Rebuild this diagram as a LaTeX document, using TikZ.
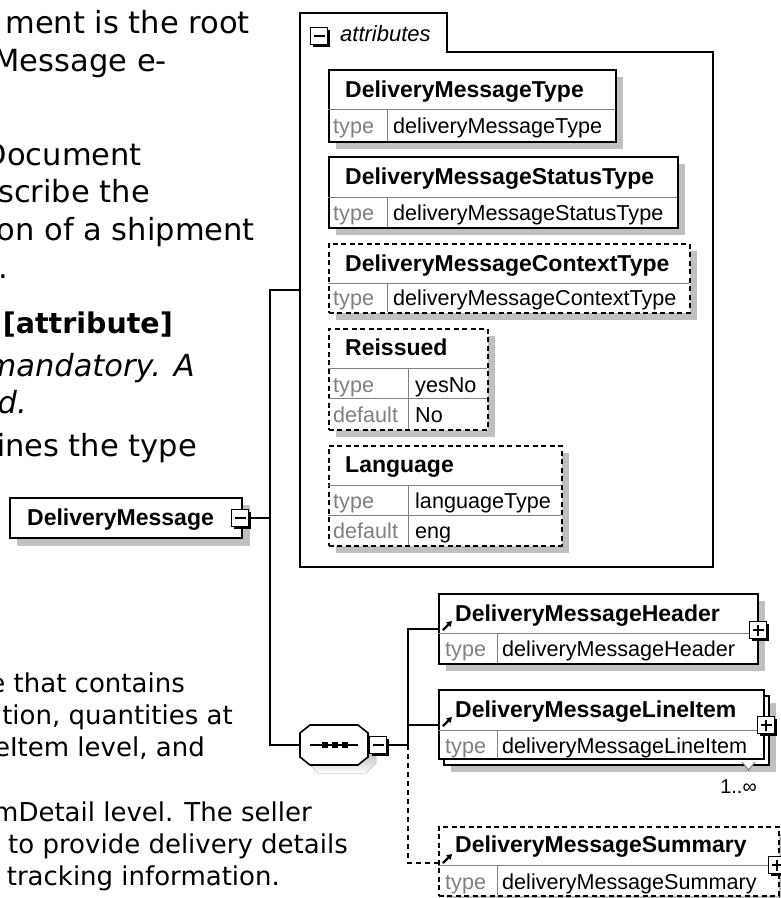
\documentclass[tikz,border=0pt]{standalone}
\usepackage{fontspec}
\setmainfont{DejaVu Sans}
\newfontfamily\dfont{Liberation Sans}
\usetikzlibrary{shadows,arrows.meta}
\definecolor{shade}{RGB}{192,192,192}
\definecolor{divc}{RGB}{128,128,128}
\definecolor{lblc}{RGB}{128,128,128}
\begin{document}
\begin{tikzpicture}[x=1pt,y=-1pt,
  ptext/.style={inner sep=0pt, anchor=base east, font=\fontsize{30.5}{36}\selectfont},
  btext/.style={inner sep=0pt, anchor=base east, font=\fontsize{26}{32}\selectfont},
  elbase/.style={draw=black, line width=1.6pt, fill=white, inner sep=0pt, anchor=north west},
  elbox/.style={elbase, drop shadow={shadow xshift=7pt, shadow yshift=-7pt, fill=shade, opacity=1}},
  optbox/.style={elbox, dash pattern=on 5pt off 3.5pt},
  expbox/.style={draw=black, line width=1.5pt, fill=white, minimum size=17pt, inner sep=0pt,
     drop shadow={shadow xshift=2.2pt, shadow yshift=-2.2pt, fill=black, opacity=1}},
  nm/.style={inner sep=0pt, anchor=base west, font=\dfont\bfseries\fontsize{23}{26}\selectfont},
  vl/.style={inner sep=0pt, anchor=base west, font=\dfont\fontsize{21.6}{25}\selectfont},
  lb/.style={vl, text=lblc},
  dv/.style={draw=divc, line width=1pt},
  cn/.style={draw=black, line width=1.6pt},
  cnd/.style={cn, dash pattern=on 5pt off 4pt},
  sgn/.style={draw=black, line width=1.4pt},
  refarrow/.style={line width=2.2pt, -{Triangle[length=5pt,width=6pt]}}
]
\useasboundingbox (0,0) rectangle (781,898);
\clip (0,0) rectangle (781,898);

% ---------- background text ----------
\node[ptext] (t1) at (250,33) {ment is the root};
\node[ptext] (t2) at (167,71) {Message e-};
\node[ptext] (t3) at (142,165) {Document};
\node[ptext] (t4) at (150,202) {scribe the};
\node[ptext] (t5) at (255,240) {on of a shipment};
\node[ptext] (t6) at (8,278) {.};
\node[ptext, font=\bfseries\fontsize{28.5}{36}\selectfont] (t7) at (173,333) {[attribute]};
\node[ptext, font=\itshape\fontsize{30.5}{36}\selectfont] (t8) at (195,376) {mandatory. A};
\node[ptext, font=\itshape\fontsize{30.5}{36}\selectfont] (t9) at (27,413) {d.};
\node[ptext] (t10) at (197,456) {fines the type};
\node[btext] (b1) at (185,692) {e that contains};
\node[btext] (b2) at (233,724) {tion, quantities at};
\node[btext] (b3) at (205,756) {eItem level, and};
\node[btext] (b4) at (312,821) {mDetail level. The seller};
\node[btext] (b5) at (348,853) {to provide delivery details};
\node[btext] (b6) at (280,885) {tracking information.};

% ---------- attributes panel ----------
\draw[cn, fill=white] (300,567) -- (300,13) -- (447,13) -- (447,52) -- (713,52) -- (713,567) -- cycle;
\node[expbox] (ax) at (319,36) {};
\draw[sgn] (ax.center) ++(-5.5,0) -- ++(11,0);
\node[inner sep=0pt, anchor=base west, font=\dfont\itshape\fontsize{22}{26}\selectfont] (atl) at (340,41) {attributes};
\coordinate (pa) at (300,290);

% DeliveryMessageType
\node[elbox, minimum width=287pt, minimum height=72pt] (a1) at (328,69) {};
\draw[dv] (328,109) -- (615,109); \draw[dv] (387,109) -- (387,141);
\node[nm] (a1n) at (345,97) {DeliveryMessageType};
\node[lb] (a1l) at (333,133) {type};
\node[vl] (a1v) at (393,133) {deliveryMessageType};

% DeliveryMessageStatusType
\node[elbox, minimum width=349pt, minimum height=71pt] (a2) at (328,156) {};
\draw[dv] (328,197) -- (677,197); \draw[dv] (387,197) -- (387,227);
\node[nm] (a2n) at (345,184) {DeliveryMessageStatusType};
\node[lb] (a2l) at (333,220) {type};
\node[vl] (a2v) at (393,220) {deliveryMessageStatusType};

% DeliveryMessageContextType
\node[optbox, minimum width=361pt, minimum height=69pt] (a3) at (328,243) {};
\draw[dv] (328,283) -- (689,283); \draw[dv] (387,283) -- (387,312);
\node[nm] (a3n) at (345,271) {DeliveryMessageContextType};
\node[lb] (a3l) at (333,305) {type};
\node[vl] (a3v) at (393,305) {deliveryMessageContextType};

% Reissued
\node[optbox, minimum width=159pt, minimum height=101pt] (a4) at (328,328) {};
\draw[dv] (328,368) -- (487,368); \draw[dv] (328,398) -- (487,398); \draw[dv] (408,368) -- (408,429);
\node[nm] (a4n) at (345,355) {Reissued};
\node[lb] (a4l) at (333,392) {type};
\node[vl] (a4v) at (415,392) {yesNo};
\node[lb] (a4d) at (333,422) {default};
\node[vl] (a4w) at (415,422) {No};

% Language
\node[optbox, minimum width=233pt, minimum height=100pt] (a5) at (328,445) {};
\draw[dv] (328,485) -- (561,485); \draw[dv] (328,515) -- (561,515); \draw[dv] (408,485) -- (408,545);
\node[nm] (a5n) at (345,472) {Language};
\node[lb] (a5l) at (333,508) {type};
\node[vl] (a5v) at (415,508) {languageType};
\node[lb] (a5d) at (333,538) {default};
\node[vl] (a5w) at (415,538) {eng};

% ---------- root element ----------
\node[elbox, drop shadow={shadow xshift=8pt, shadow yshift=-8pt, fill=shade, opacity=1}, minimum width=232pt, minimum height=40pt] (root) at (9,497) {};
\node[nm] (rootn) at (27,525) {DeliveryMessage};
\node[expbox] (rx) at (240,518) {};
\draw[sgn] (rx.center) ++(-5.5,0) -- ++(11,0);
\coordinate (j1) at (270,518);

% ---------- sequence compositor ----------
\fill[shade] (308,741) -- (318,733) -- (366,733) -- (376,741) -- (376,763) -- (366,773) -- (318,773) -- (308,763) -- cycle;
\node[inner sep=0pt, minimum width=68pt, minimum height=40pt, anchor=north west] (seq) at (300,725) {};
\draw[cn, fill=white] (300,733) -- (310,725) -- (358,725) -- (368,733) -- (368,757) -- (358,765) -- (310,765) -- (300,757) -- cycle;
\draw[line width=1.4pt] (310,745) -- (358,745);
\fill (322,742) rectangle (327.5,748);
\fill (332,742) rectangle (337.5,748);
\fill (342,742) rectangle (347.5,748);
\node[expbox] (sx) at (378,745) {};
\draw[sgn] (sx.center) ++(-5.5,0) -- ++(11,0);
\coordinate (j2) at (408,745);

% ---------- child elements ----------
% Header
\node[elbox, minimum width=319pt, minimum height=70pt] (hd) at (438,593) {};
\draw[dv] (438,633) -- (757,633); \draw[dv] (497,633) -- (497,663);
\draw[refarrow] (443,630) -- (452,621);
\node[nm] (hdn) at (455,621) {DeliveryMessageHeader};
\node[lb] (hdl) at (445,656) {type};
\node[vl] (hdv) at (502,656) {deliveryMessageHeader};
\node[expbox] (hx) at (758,630) {};
\draw[sgn] (hx.center) ++(-5.5,0) -- ++(11,0);
\draw[sgn] (hx.center) ++(0,-5.5) -- ++(0,11);
\coordinate (ha) at (438,629);

% LineItem (repeated)
\node[elbox, minimum width=325pt, minimum height=69pt] (lib) at (443,695) {};
\node[elbase, minimum width=325pt, minimum height=69pt] (li) at (438,689) {};
\draw[dv] (438,730) -- (763,730); \draw[dv] (497,730) -- (497,758);
\draw[refarrow] (443,726) -- (452,717);
\node[nm] (lin) at (455,717) {DeliveryMessageLineItem};
\node[lb] (lil) at (445,753) {type};
\node[vl] (liv) at (502,753) {deliveryMessageLineItem};
\node[expbox] (lx) at (766,725) {};
\draw[sgn] (lx.center) ++(-5.5,0) -- ++(11,0);
\draw[sgn] (lx.center) ++(0,-5.5) -- ++(0,11);
\draw[draw=divc, fill=white, line width=1pt] (742,762) -- (748.5,770) -- (755,762);
\node[inner sep=0pt, anchor=base east, font=\dfont\fontsize{20}{24}\selectfont] (mult) at (757,793) {1..∞};
\coordinate (la) at (438,725);

% Summary (optional)
\node[optbox, minimum width=340pt, minimum height=69pt] (sm) at (438,826) {};
\draw[dv] (438,865) -- (778,865); \draw[dv] (497,865) -- (497,895);
\draw[refarrow] (443,863) -- (452,854);
\node[nm] (smn) at (455,852) {DeliveryMessageSummary};
\node[lb] (sml) at (445,889) {type};
\node[vl] (smv) at (502,889) {deliveryMessageSummary};
\node[expbox] (smx) at (777,865) {};
\draw[sgn] (smx.center) ++(-5.5,0) -- ++(11,0);
\draw[sgn] (smx.center) ++(0,-5.5) -- ++(0,11);
\coordinate (sa) at (438,863);

% ---------- connectors ----------
\draw[cn] (rx.east) -- (j1) |- (pa);
\draw[cn] (j1) |- (seq.west);
\draw[cn] (sx.east) -- (j2);
\draw[cn] (j2) |- (ha);
\draw[cn] (j2) |- (la);
\draw[cnd] (j2) |- (sa);
\end{tikzpicture}
\end{document}
